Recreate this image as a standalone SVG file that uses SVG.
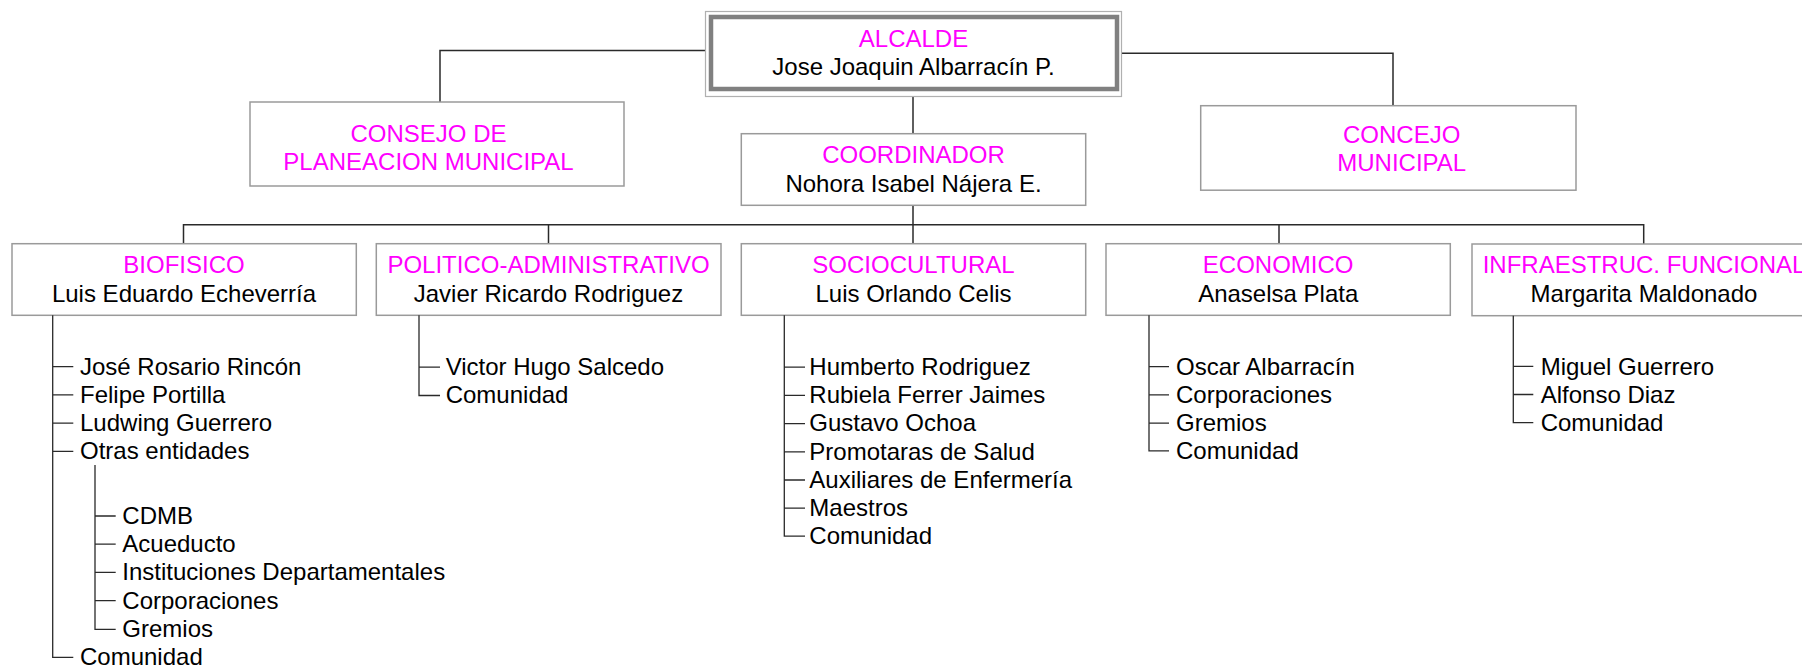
<svg xmlns="http://www.w3.org/2000/svg" width="1802" height="667" viewBox="0 0 1802 667">
<style>
text{font-family:"Liberation Sans",Arial,sans-serif;font-size:24px}
.t{fill:#ff00ff;text-anchor:middle}
.n{fill:#000;text-anchor:middle}
.i{fill:#000}
.box{fill:#fff;stroke:#9a9a9a;stroke-width:1.5}
.c{fill:none;stroke:#2a2a2a;stroke-width:1.5}
.l{fill:none;stroke:#2a2a2a;stroke-width:1.3}
</style>
<rect width="1802" height="667" fill="#fff"/>
<g id="connectors">
<path class="c" d="M705.5 50.5H440V102"/>
<path class="c" d="M1121.5 53.3H1393V105.7"/>
<path class="c" d="M913 96.5V133.7"/>
<path class="c" d="M913 205.3V243.7"/>
<path class="c" d="M183.5 243.7V224.7H1643.7V244"/>
<path class="c" d="M548.5 224.7V243.7"/>
<path class="c" d="M1279 224.7V243.7"/>
</g>
<g id="alcalde">
<rect x="705.5" y="11.5" width="416" height="85" fill="#fff" stroke="#b0b0b0" stroke-width="1.2"/>
<rect x="711" y="17" width="406" height="72" fill="none" stroke="#808080" stroke-width="4.5"/>
<text class="t" x="913.5" y="47">ALCALDE</text>
<text class="n" x="913.5" y="75">Jose Joaquin Albarracín P.</text>
</g>
<g id="consejo">
<rect class="box" x="250" y="102" width="374" height="84"/>
<text class="t" x="428.5" y="141.7">CONSEJO DE</text>
<text class="t" x="428.5" y="170">PLANEACION MUNICIPAL</text>
</g>
<g id="concejo">
<rect class="box" x="1200.7" y="105.7" width="375.3" height="84.5"/>
<text class="t" x="1401.7" y="142.7">CONCEJO</text>
<text class="t" x="1401.7" y="170.7">MUNICIPAL</text>
</g>
<g id="coordinador">
<rect class="box" x="741.3" y="133.7" width="344.4" height="71.6"/>
<text class="t" x="913.5" y="162.7">COORDINADOR</text>
<text class="n" x="913.5" y="191.7">Nohora Isabel Nájera E.</text>
</g>
<g id="biofisico">
<rect class="box" x="12" y="243.7" width="344.3" height="71.6"/>
<text class="t" x="184" y="272.7">BIOFISICO</text>
<text class="n" x="184" y="301.7">Luis Eduardo Echeverría</text>
<path class="l" d="M52.7 315.3V657.3H73.3M52.7 366.7H73.3M52.7 394.9H73.3M52.7 423.1H73.3M52.7 451.3H73.3"/>
<path class="l" d="M95 465V629.3H115.7M95 516H115.7M95 544.2H115.7M95 572.4H115.7M95 600.6H115.7"/>
<text class="i" x="80" y="374.7">José Rosario Rincón</text>
<text class="i" x="80" y="402.9">Felipe Portilla</text>
<text class="i" x="80" y="431.1">Ludwing Guerrero</text>
<text class="i" x="80" y="459.3">Otras entidades</text>
<text class="i" x="122.3" y="524">CDMB</text>
<text class="i" x="122.3" y="552.2">Acueducto</text>
<text class="i" x="122.3" y="580.4">Instituciones Departamentales</text>
<text class="i" x="122.3" y="608.6">Corporaciones</text>
<text class="i" x="122.3" y="636.8">Gremios</text>
<text class="i" x="80" y="665">Comunidad</text>
</g>
<g id="politico">
<rect class="box" x="376.3" y="243.7" width="344.7" height="71.6"/>
<text class="t" x="548.5" y="272.7">POLITICO-ADMINISTRATIVO</text>
<text class="n" x="548.5" y="301.7">Javier Ricardo Rodriguez</text>
<path class="l" d="M419 315.3V395.5H440M419 367.2H440"/>
<text class="i" x="445.7" y="375">Victor Hugo Salcedo</text>
<text class="i" x="445.7" y="403.2">Comunidad</text>
</g>
<g id="sociocultural">
<rect class="box" x="741.3" y="243.7" width="344.4" height="71.6"/>
<text class="t" x="913.5" y="272.7">SOCIOCULTURAL</text>
<text class="n" x="913.5" y="301.7">Luis Orlando Celis</text>
<path class="l" d="M784.3 315.3V536.2H805M784.3 367.2H805M784.3 395.4H805M784.3 423.6H805M784.3 451.8H805M784.3 480H805M784.3 508.2H805"/>
<text class="i" x="809.3" y="375">Humberto Rodriguez</text>
<text class="i" x="809.3" y="403.2">Rubiela Ferrer Jaimes</text>
<text class="i" x="809.3" y="431.4">Gustavo Ochoa</text>
<text class="i" x="809.3" y="459.6">Promotaras de Salud</text>
<text class="i" x="809.3" y="487.8">Auxiliares de Enfermería</text>
<text class="i" x="809.3" y="516">Maestros</text>
<text class="i" x="809.3" y="544.2">Comunidad</text>
</g>
<g id="economico">
<rect class="box" x="1106" y="243.7" width="344.3" height="71.6"/>
<text class="t" x="1278.2" y="272.7">ECONOMICO</text>
<text class="n" x="1278.2" y="301.7">Anaselsa Plata</text>
<path class="l" d="M1149 315.3V450.9H1169M1149 366.7H1169M1149 394.9H1169M1149 423.1H1169"/>
<text class="i" x="1176" y="374.7">Oscar Albarracín</text>
<text class="i" x="1176" y="402.9">Corporaciones</text>
<text class="i" x="1176" y="431.1">Gremios</text>
<text class="i" x="1176" y="459.3">Comunidad</text>
</g>
<g id="infraestructura">
<rect class="box" x="1472" y="244" width="344" height="71.7"/>
<text class="t" x="1644" y="272.7">INFRAESTRUC. FUNCIONAL</text>
<text class="n" x="1644" y="301.7">Margarita Maldonado</text>
<path class="l" d="M1513.3 315.7V422.7H1533.3M1513.3 366.3H1533.3M1513.3 394.5H1533.3"/>
<text class="i" x="1540.7" y="374.5">Miguel Guerrero</text>
<text class="i" x="1540.7" y="402.7">Alfonso Diaz</text>
<text class="i" x="1540.7" y="430.9">Comunidad</text>
</g>
</svg>
